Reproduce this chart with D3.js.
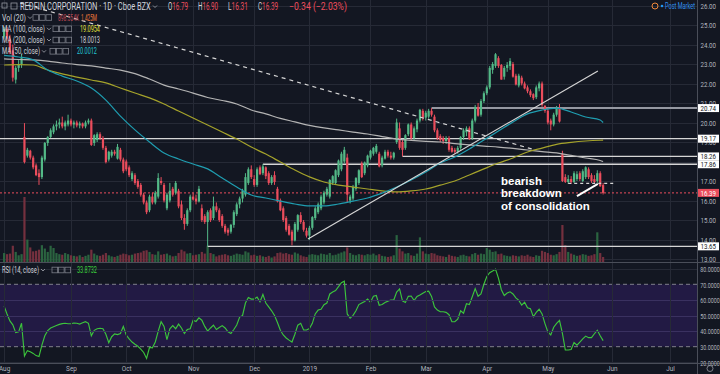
<!DOCTYPE html>
<html lang="en">
<head>
<meta charset="UTF-8">
<title>REDFIN CORPORATION 1D</title>
<script src="https://d3js.org/d3.v7.min.js"></script>
<style>
  html, body { margin: 0; padding: 0; background: #131722; }
  svg { display: block; }
  text { font-family: Roboto, "Open Sans", "Liberation Sans", sans-serif; }
</style>
</head>
<body>
<svg id="chart"></svg>
<script>
// ---- data ----
// first session of each month, as a bar index
const monthLabels = ["Aug", "Sep", "Oct", "Nov", "Dec", "2019", "Feb", "Mar", "Apr", "May", "Jun", "Jul"];
const monthBars = [0, 23, 42, 65, 86, 105, 126, 145, 166, 187, 209, 229];
const priceTicks = [13, 14, 15, 16, 17, 18, 19, 20, 21, 22, 23, 24, 25, 26];
const rsiTicks = [20, 30, 40, 50, 60, 70, 80];

// daily candles [open, high, low, close]
const candles = [
  // Aug
  [24.4,24.9,24.3,24.8],[24.8,24.9,24.2,24.3],[24.3,24.5,23.5,23.6],[23.7,24.0,22.1,22.3],[22.2,22.9,22.0,22.8],
  [22.8,23.2,22.6,23.0],[23.0,23.5,22.8,23.3],[19.26,19.97,17.9,17.97],[18.3,18.7,18.2,18.6],[18.55,18.6,18.1,18.2],
  [18.2,18.3,17.6,17.7],[17.8,17.9,17.25,17.3],[17.4,17.6,16.8,17.2],[17.2,18.3,17.1,18.2],[18.1,19.0,18.0,18.95],
  [18.95,19.3,18.8,19.26],[19.26,19.7,19.2,19.6],[19.5,19.9,19.4,19.8],[19.8,20.1,19.6,19.9],[19.9,20.2,19.7,20.0],
  [20.0,20.3,19.7,19.8],[19.8,20.1,19.6,20.0],[19.9,20.4,19.8,20.1],
  // Sep
  [20.1,20.2,19.8,19.9],[19.9,20.1,19.7,20.0],[20.0,20.1,19.75,19.85],[19.85,20.05,19.7,19.95],[19.95,20.0,19.7,19.8],
  [19.8,20.1,19.7,20.0],[20.0,20.2,19.9,20.1],[20.1,20.2,18.8,18.85],[18.95,19.4,18.8,19.35],[19.1,19.5,19.0,19.4],
  [19.4,19.5,19.1,19.2],[19.2,19.3,18.6,18.7],[18.7,18.8,17.9,17.97],[18.1,18.55,18.0,18.5],[18.3,18.6,18.2,18.5],
  [18.5,18.6,18.3,18.4],[18.15,18.9,18.1,18.75],[18.6,18.7,18.0,18.1],[18.1,18.2,17.4,17.5],
  // Oct
  [18.0,18.1,17.5,17.6],[17.7,17.8,17.2,17.3],[17.1,17.5,17.0,17.4],[17.3,17.4,16.8,16.9],[17.0,17.1,16.6,16.7],
  [16.8,16.9,16.2,16.3],[16.3,16.4,15.8,15.9],[15.9,16.0,15.3,15.4],[15.5,16.3,15.4,16.2],[16.2,16.4,15.8,15.9],
  [15.9,16.5,15.8,16.4],[16.2,17.4,16.1,17.15],[17.0,17.2,16.8,16.9],[16.8,16.9,15.9,16.0],[15.6,16.4,15.5,16.3],
  [16.0,16.9,15.9,16.5],[16.6,16.7,16.2,16.3],[16.4,17.0,16.3,16.9],[16.5,16.6,15.6,15.7],[15.8,16.0,15.0,15.1],
  [15.1,15.3,14.5,14.8],[14.8,15.6,14.7,15.5],[15.5,16.3,15.4,16.2],
  // Nov
  [16.2,16.4,16.0,16.05],[16.1,16.3,15.8,15.95],[15.95,16.75,15.9,16.6],[15.6,15.8,14.9,15.0],[15.2,15.3,14.8,14.9],
  [14.9,15.5,13.65,15.4],[15.5,15.6,14.9,15.0],[15.1,16.2,15.0,15.7],[15.7,15.9,15.4,15.5],[15.5,15.6,14.9,15.0],
  [15.2,15.3,14.6,14.7],[14.7,14.8,14.3,14.4],[14.5,14.6,14.2,14.35],[14.4,14.8,14.3,14.75],[14.75,15.5,14.6,15.4],
  [15.3,15.9,15.2,15.8],[15.8,16.2,15.6,16.1],[16.1,16.6,15.9,16.5],[16.3,17.4,16.2,17.2],[16.9,17.7,16.8,17.6],
  [17.6,17.8,17.1,17.2],
  // Dec
  [17.1,17.3,16.7,16.8],[16.8,17.7,16.7,17.6],[17.7,17.8,17.3,17.35],[17.4,17.86,17.3,17.75],[17.7,17.75,17.1,17.25],
  [17.4,17.5,16.8,16.9],[16.9,17.3,16.8,17.2],[17.3,17.5,16.8,16.95],[16.6,16.7,15.9,15.95],[16.0,16.1,15.45,15.5],
  [15.6,15.7,14.9,15.0],[15.1,15.2,14.4,14.5],[14.7,14.8,14.2,14.25],[14.4,14.5,13.7,13.95],[13.95,14.9,13.9,14.8],
  [14.5,15.3,14.4,15.25],[15.25,15.4,14.8,14.9],[14.9,15.0,14.4,14.5],[14.45,14.6,14.1,14.2],
  // Jan
  [14.2,14.7,13.97,14.6],[14.6,15.2,14.5,15.15],[15.1,15.7,15.0,15.6],[15.4,15.9,15.3,15.8],[15.6,16.3,15.5,16.2],
  [15.9,16.5,15.8,16.4],[16.3,16.7,16.2,16.6],[16.2,17.1,16.1,17.05],[16.9,17.3,16.8,17.25],[16.9,17.6,16.8,17.55],
  [17.3,18.1,17.2,18.05],[17.6,18.5,17.5,18.4],[18.0,18.75,17.9,18.6],[18.2,18.4,15.9,16.3],[16.0,16.3,15.85,16.2],
  [16.1,16.8,16.0,16.7],[16.6,17.2,16.5,17.15],[16.9,17.6,16.8,17.55],[17.9,18.0,17.15,17.2],[17.4,18.0,17.3,17.95],
  [17.8,18.35,17.7,18.3],
  // Feb
  [18.2,18.6,18.1,18.55],[18.4,18.75,18.3,18.7],[18.5,18.9,18.4,18.8],[18.4,18.5,17.7,17.75],[17.8,18.3,17.7,18.2],
  [18.15,18.6,18.1,18.5],[18.5,18.6,18.2,18.3],[18.3,18.5,18.1,18.2],[18.2,18.5,18.1,18.45],[19.0,20.2,18.9,20.0],
  [19.7,20.0,18.6,18.7],[19.0,19.1,18.26,18.6],[18.7,19.4,18.6,19.35],[19.4,19.95,19.3,19.9],[19.9,20.0,19.1,19.2],
  [19.2,19.8,19.1,19.7],[19.65,20.2,19.5,20.1],[20.1,20.7,20.0,20.65],[20.6,20.7,20.1,20.25],
  // Mar
  [20.25,20.6,20.1,20.5],[20.3,20.7,20.2,20.6],[20.6,20.74,20.3,20.4],[20.3,20.4,19.5,19.6],[19.6,19.7,19.1,19.2],
  [19.3,19.4,19.0,19.1],[19.2,19.3,18.9,19.05],[19.05,19.3,18.9,19.2],[19.2,19.3,18.5,18.6],[18.7,18.8,18.45,18.5],
  [18.6,18.7,18.4,18.5],[18.5,18.8,18.4,18.7],[18.7,19.3,18.6,19.25],[19.25,19.7,19.1,19.6],[19.5,19.8,19.3,19.7],
  [19.7,19.8,19.1,19.15],[19.2,20.2,19.1,20.1],[20.1,20.9,20.0,20.8],[20.8,21.0,20.3,20.35],[20.4,21.2,20.3,21.1],
  [21.1,21.6,21.0,21.5],
  // Apr
  [21.5,21.9,21.4,21.8],[21.8,22.9,21.7,22.8],[22.7,23.1,22.5,23.0],[22.9,23.56,22.8,23.5],[23.3,23.4,22.8,22.9],
  [22.95,23.0,22.2,22.2],[22.35,22.9,22.2,22.8],[22.8,23.1,22.6,22.95],[22.9,23.3,22.7,23.15],[23.0,23.1,22.3,22.35],
  [22.4,22.5,21.9,21.95],[21.9,22.5,21.8,22.4],[22.3,22.4,21.9,22.0],[22.0,22.1,21.7,21.75],[21.8,21.9,21.5,21.6],
  [21.6,21.7,21.3,21.4],[21.45,21.5,21.15,21.25],[21.3,21.9,21.2,21.8],[21.75,22.1,21.6,22.0],[22.0,22.1,20.8,20.9],
  [20.85,20.9,20.5,20.6],
  // May
  [20.6,20.7,19.9,20.0],[20.1,20.2,19.6,19.9],[19.9,20.5,19.8,20.4],[20.4,20.85,20.3,20.75],[20.7,20.95,20.0,20.05],
  [18.4,18.55,16.95,17.0],[17.2,17.35,16.9,16.95],[16.95,17.3,16.85,17.1],[17.1,17.25,16.85,16.95],[16.95,17.5,16.9,17.4],
  [17.1,17.5,17.0,17.35],[17.4,17.5,17.0,17.1],[17.0,17.6,16.95,17.5],[17.2,17.75,17.1,17.7],[17.6,17.7,17.1,17.2],
  [17.3,17.4,16.9,17.0],[17.1,17.3,16.85,16.95],[17.0,17.55,16.9,17.4],[17.4,17.5,16.7,16.73],[16.79,16.90,16.31,16.39]
];

// daily volume, millions of shares
const volumes = [
  1.6,1.4,1.5,2.9,1.8,1.2,1.4,11.6,4.0,2.6,1.9,2.0,2.2,3.0,2.4,1.8,2.9,2.5,1.6,1.4,1.3,1.6,1.4,
  1.2,1.1,1.0,1.2,0.9,1.1,1.3,2.2,1.5,1.2,1.1,1.3,1.6,1.2,1.0,0.9,1.1,1.3,1.5,
  1.4,1.2,1.3,1.5,1.6,1.7,2.0,2.1,1.8,1.4,1.3,1.9,1.3,1.4,1.5,1.2,1.0,1.1,1.6,2.2,1.9,1.5,1.6,
  1.2,1.3,1.4,1.8,1.5,2.9,1.6,1.4,1.0,1.2,1.3,1.4,1.2,1.1,1.3,1.5,1.4,1.3,1.9,1.7,1.2,
  1.3,1.1,1.2,1.0,0.9,1.1,0.8,1.0,1.6,1.7,1.5,1.6,1.4,1.3,1.7,1.5,1.2,1.0,0.9,
  1.3,1.4,1.3,1.2,1.5,1.4,1.3,1.6,1.2,1.3,1.5,1.7,1.9,2.6,1.6,1.3,1.2,1.4,1.3,1.2,1.4,
  1.3,1.5,1.2,1.4,1.1,1.0,0.9,1.0,1.2,4.8,2.4,1.9,1.5,1.6,1.2,1.1,1.5,4.4,1.9,
  1.5,1.4,1.6,1.5,1.2,1.1,1.0,0.9,1.3,1.1,1.0,0.9,1.2,1.3,1.1,1.0,1.4,1.6,1.3,1.5,1.4,
  2.5,2.2,1.8,1.9,1.4,1.5,1.2,1.1,1.0,1.2,1.1,1.0,1.2,1.1,1.3,1.0,0.9,1.2,1.1,2.0,1.8,
  1.6,1.3,1.2,1.4,1.8,6.6,3.0,1.8,1.5,1.3,1.1,1.2,1.4,1.3,1.1,1.2,1.4,5.3,1.6,0.899
];

// RSI(14), one value per bar
const rsi = [
  56,51,46.5,44,39,39.5,45,24,27.5,26.8,
  25.7,24.3,23.7,31,37,40.3,42,42.8,43.6,44.3,
  44.8,45.0,44.7,44.7,45.2,45.0,44.5,45.3,46.0,45.0,
  37,40.5,41.5,41.8,41.5,38,32.5,36.4,38.2,37.8,
  38.5,43,37.5,35,33,31.6,30.3,28.5,26.3,22.5,
  29.5,29.3,33,40,46,43,34.5,41.5,43.5,41.5,
  44.5,42,38.5,41,41.5,47,46.2,48.5,47,43,
  40,42,43.8,41,42.3,43.5,42,39.5,38.5,41,
  43.9,49,50,58,61.5,60.5,60.5,61.8,58.8,63.5,
  58,55.5,53,50,45.5,40.5,37.5,35.6,34.2,33,
  38,43.8,45,40.7,40.7,41.6,45,51,53.5,54,
  56.9,58,63.8,65.1,66,68.5,71,72,51,48.3,
  50.1,53,57,58,59,60.5,58.5,62.3,62.8,56.6,
  57,58.3,59.2,59.9,59.9,65,67,59.4,58.4,62.3,
  62.5,59.6,62.2,63.1,64.3,65.4,65.6,62.2,55.5,53.5,
  52.4,52.4,52,50.5,46,46,47.7,53,51.5,57.5,
  57,62,67.2,62.3,63.8,70,75,77.4,78.5,79.7,
  74,66.5,62.8,64.4,65.2,63.8,61.3,59.7,56.7,58.5,
  55,54.4,49.2,52,54,51,44.8,39.5,37.5,42.5,
  45,46.8,38.5,27.9,27.9,28.2,32.7,31,33,35,
  36.8,35.8,35.8,38.3,40.5,37,33.87
];

// moving averages, read every 5 bars
const maBars = [0,5,10,15,20,25,30,35,40,45,50,55,60,65,70,75,80,85,90,95,100,
  105,110,115,120,125,130,135,140,145,150,155,160,165,170,175,180,185,190,195,200,205,206];
const ma50 = [23.44,23.36,23.21,22.69,22.38,22.13,21.77,21.15,20.33,19.62,19.0,18.44,18.13,17.87,17.62,
  17.15,16.69,16.28,16.13,15.97,15.82,15.72,15.72,15.82,15.97,16.13,16.38,16.69,17.05,17.46,17.92,
  18.23,18.64,19.10,19.56,20.03,20.44,20.64,20.74,20.54,20.28,20.13,20.00];
const ma100 = [22.95,22.97,22.95,22.69,22.49,22.33,22.18,22.03,21.77,21.51,21.26,20.95,20.59,20.23,19.87,
  19.51,19.15,18.74,18.38,17.97,17.56,17.21,16.95,16.79,16.69,16.59,16.49,16.44,16.49,16.59,16.79,
  17.0,17.31,17.62,17.92,18.18,18.49,18.69,18.88,18.98,19.05,19.09,19.095];
const ma200 = [23.26,23.23,23.21,23.15,23.05,22.97,22.90,22.79,22.69,22.51,22.23,21.92,21.72,21.51,21.28,
  21.13,20.95,20.64,20.44,20.21,20.03,19.85,19.72,19.62,19.51,19.41,19.28,19.15,19.08,19.03,19.0,
  18.92,18.85,18.79,18.74,18.67,18.59,18.51,18.44,18.31,18.18,18.05,18.00];

// drawn levels (price, bar where the ray starts)
const levels = [20.74, 19.17, 18.26, 17.86, 13.65];
const levelFrom = [147, -2, 137, 89, 70];
const lastPrice = 16.39;
// trend lines as [bar, price] pairs
const downTrend = [[5.5, 26.13], [182, 18.62]];
const upTrend = [[104.5, 14.03], [204.2, 22.64]];
const consolidation = [[194, 16.88], [209.5, 16.88]];
const arrow = [[197, 16.23], [204.2, 16.85]];
const note = ["bearish", "breakdown", "of consolidation"];

// ---- layout ----
var W = 720, H = 374;
var plotR = 697;
var priceBottom = 262, rsiTop = 263, rsiBottom = 363;
var up = "#53b987", down = "#eb4d5c";
var grid = "#262a36", axisText = "#b2b5be";

var svg = d3.select("#chart").attr("width", W).attr("height", H);
svg.append("rect").attr("width", W).attr("height", H).attr("fill", "#131722");

var x = d3.scaleLinear().domain([0, 229]).range([4.1, 670]);
var yP = d3.scaleLinear().domain([13, 26]).range([259, 5.5]);
var yV = d3.scaleLinear().domain([0, 11.6]).range([priceBottom, 197]);
var yR = d3.scaleLinear().domain([20, 80]).range([362.3, 268.7]);

// the screenshot's small texts are narrow: squash each one horizontally to a given width
function squash(sel, width, tx, ty) {
  sel.each(function () {
    var w = this.getComputedTextLength();
    var t = d3.select(this);
    var k = (typeof width === "function" ? width(this) : width) / w;
    t.attr("x", 0).attr("y", 0).attr("transform", `translate(${tx},${ty}) scale(${k},1)`);
  });
}
function label(g, str, x0, y0, width, size, color) {
  var t = g.append("text").attr("font-size", size).attr("fill", color).text(str);
  squash(t, width, x0, y0);
  return t;
}

svg.append("clipPath").attr("id", "clipP").append("rect")
  .attr("width", plotR).attr("height", priceBottom);
svg.append("clipPath").attr("id", "clipR").append("rect")
  .attr("y", rsiTop).attr("width", plotR).attr("height", rsiBottom - rsiTop);

// RSI band 30..70
var rsiG = svg.append("g").attr("clip-path", "url(#clipR)");
rsiG.append("rect").attr("x", 0).attr("width", plotR)
  .attr("y", yR(70)).attr("height", yR(30) - yR(70)).attr("fill", "#221a44");

// grid
var gridG = svg.append("g").attr("stroke", grid).attr("stroke-width", 1);
gridG.selectAll(".hp").data(priceTicks).join("line")
  .attr("x1", 0).attr("x2", plotR)
  .attr("y1", d => Math.round(yP(d)) + 0.5).attr("y2", d => Math.round(yP(d)) + 0.5);
gridG.selectAll(".hr").data(rsiTicks.filter(d => d != 30 && d != 70)).join("line")
  .attr("x1", 0).attr("x2", plotR)
  .attr("y1", d => Math.round(yR(d)) + 0.5).attr("y2", d => Math.round(yR(d)) + 0.5)
  .attr("stroke", d => (d > 30 && d < 70) ? "#3a3160" : grid);
gridG.selectAll(".v").data(monthBars).join("line")
  .attr("x1", d => Math.round(x(d)) + 0.5).attr("x2", d => Math.round(x(d)) + 0.5)
  .attr("y1", 0).attr("y2", rsiBottom);

// volume
var priceG = svg.append("g").attr("clip-path", "url(#clipP)");
priceG.append("g").selectAll("rect").data(volumes).join("rect")
  .attr("x", (d, i) => x(i) - 1.1).attr("width", 2.2)
  .attr("y", d => yV(d)).attr("height", d => priceBottom - yV(d))
  .attr("fill", (d, i) => candles[i][3] >= candles[i][0] ? "#2b6440" : "#74303e");

// horizontal drawn levels
priceG.append("g").selectAll("line").data(levels).join("line")
  .attr("x1", (d, i) => x(levelFrom[i])).attr("x2", plotR)
  .attr("y1", d => yP(d)).attr("y2", d => yP(d))
  .attr("stroke", (d, i) => i == 0 ? "#9598a1" : "#d6d6d6")
  .attr("stroke-width", (d, i) => i == 0 ? 2 : 1.3);

// last price dotted line
priceG.append("line").attr("x1", 0).attr("x2", plotR)
  .attr("y1", yP(lastPrice)).attr("y2", yP(lastPrice))
  .attr("stroke", down).attr("stroke-dasharray", "2,2").attr("stroke-width", 1);

// candles
priceG.append("g").selectAll("line").data(candles).join("line")
  .attr("x1", (d, i) => x(i)).attr("x2", (d, i) => x(i))
  .attr("y1", d => yP(d[1])).attr("y2", d => yP(d[2]))
  .attr("stroke", d => d[3] >= d[0] ? up : down).attr("stroke-width", 1);
priceG.append("g").selectAll("rect").data(candles).join("rect")
  .attr("x", (d, i) => x(i) - 1.1).attr("width", 2.2)
  .attr("y", d => yP(Math.max(d[0], d[3])))
  .attr("height", d => Math.max(1, Math.abs(yP(d[0]) - yP(d[3]))))
  .attr("fill", d => d[3] >= d[0] ? up : down);

// moving averages
var maLine = d3.line().x(d => x(d[0])).y(d => yP(d[1])).curve(d3.curveMonotoneX);
[[ma200, "#b4b4b4"], [ma100, "#a5a32b"], [ma50, "#1f9db0"]].forEach(m => {
  priceG.append("path")
    .datum(maBars.map((b, k) => [b, m[0][k]]))
    .attr("d", maLine).attr("fill", "none")
    .attr("stroke", m[1]).attr("stroke-width", 1.2);
});

// trend lines
var seg = d3.line().x(d => x(d[0])).y(d => yP(d[1]));
priceG.append("path").datum(downTrend).attr("d", seg)
  .attr("stroke", "#d6d6d6").attr("stroke-width", 1.2).attr("stroke-dasharray", "4,4").attr("fill", "none");
priceG.append("path").datum(upTrend).attr("d", seg)
  .attr("stroke", "#d6d6d6").attr("stroke-width", 1.2).attr("fill", "none");
priceG.append("path").datum(consolidation).attr("d", seg)
  .attr("stroke", "#d6d6d6").attr("stroke-width", 1.2).attr("stroke-dasharray", "3,3").attr("fill", "none");
priceG.append("path").datum(arrow).attr("d", seg)
  .attr("stroke", "#ffffff").attr("stroke-width", 2).attr("fill", "none");

// annotation
priceG.append("g").selectAll("text").data(note).join("text")
  .attr("x", 501).attr("y", (d, i) => 184.5 + i * 12.6)
  .attr("fill", "#ffffff").attr("font-size", 11.5).attr("font-weight", "bold")
  .style("font-family", "'Liberation Sans', Arial, sans-serif")
  .text(d => d);

// RSI line and band edges
rsiG.append("g").selectAll("line").data([70, 30]).join("line")
  .attr("x1", 0).attr("x2", plotR).attr("y1", d => yR(d)).attr("y2", d => yR(d))
  .attr("stroke", "#80808c").attr("stroke-dasharray", "4,3").attr("stroke-width", 1);
rsiG.append("path").datum(rsi)
  .attr("d", d3.line().x((d, i) => x(i)).y(d => yR(d)))
  .attr("fill", "none").attr("stroke", "#3cc43c").attr("stroke-width", 1.15);

// pane borders
var border = "#4a4e59";
svg.append("line").attr("x1", plotR + 0.5).attr("x2", plotR + 0.5).attr("y1", 0).attr("y2", H).attr("stroke", border);
svg.append("line").attr("x1", 0).attr("x2", W).attr("y1", priceBottom + 0.5).attr("y2", priceBottom + 0.5).attr("stroke", border);
svg.append("line").attr("x1", 0).attr("x2", W).attr("y1", rsiBottom + 0.5).attr("y2", rsiBottom + 0.5).attr("stroke", border);

// axes
function styleAxis(g) {
  g.select(".domain").remove();
  g.attr("font-family", null);
  g.selectAll("text").attr("fill", axisText).attr("font-size", 8).attr("dy", null);
}
// a tick label lying wholly under the level boxes is dropped; partly covered ones stay, as on screen
var boxY = levels.concat([lastPrice]).map(b => yP(b));
var shownTicks = priceTicks.filter(t => {
  var y = yP(t);
  var above = boxY.some(b => b <= y && y - b < 6);
  var below = boxY.some(b => b >= y && b - y < 6);
  return !(above && below);
});
svg.append("g").attr("transform", `translate(${plotR},0)`)
  .call(d3.axisRight(yP).tickValues(shownTicks).tickFormat(d3.format(".2f")).tickSize(0))
  .call(styleAxis)
  .call(g => squash(g.selectAll("text"), 15.5, 3.5, 2.8));
svg.append("g").attr("transform", `translate(${plotR},0)`)
  .call(d3.axisRight(yR).tickValues(rsiTicks).tickFormat(d3.format(".4f")).tickSize(0))
  .call(styleAxis)
  .call(g => squash(g.selectAll("text"), 19.5, 3.2, 2.8));
svg.append("g").attr("transform", `translate(0,${rsiBottom})`)
  .call(d3.axisBottom(x).tickValues(monthBars).tickFormat((d, i) => monthLabels[i]).tickSize(0))
  .call(styleAxis)
  .call(g => squash(g.selectAll("text"), t => t.getComputedTextLength() * 0.8, 0, 8.2));

// price labels on the axis
var lab = svg.append("g");
levels.forEach(v => {
  lab.append("rect").attr("x", plotR + 1).attr("y", yP(v) - 4).attr("width", 21).attr("height", 8).attr("fill", "#ffffff");
  label(lab, d3.format(".2f")(v), plotR + 3.5, yP(v) + 2.8, 15.5, 8, "#131722");
});
lab.append("rect").attr("x", plotR + 1).attr("y", yP(lastPrice) - 4).attr("width", 21).attr("height", 8).attr("fill", down);
label(lab, d3.format(".2f")(lastPrice), plotR + 3.5, yP(lastPrice) + 2.8, 15.5, 8, "#ffffff");

// ---- legend ----
var leg = svg.append("g");
var legColor = "#d1d4dc";
function chevron(g, cx, cy) {
  g.append("path").attr("d", `M${cx - 2},${cy - 1}L${cx},${cy + 1}L${cx + 2},${cy - 1}`)
    .attr("stroke", "#9598a1").attr("fill", "none").attr("stroke-width", 0.9);
}
function icons(g, x0, cy) {
  for (let k = 0; k < 3; k++) {
    g.append("rect").attr("x", x0 + k * 6.5).attr("y", cy - 2.8).attr("width", 5.6).attr("height", 5.6)
      .attr("fill", "none").attr("stroke", "#7b7e88").attr("stroke-width", 0.8);
  }
}
// title
leg.append("rect").attr("x", 2).attr("y", 3).attr("width", 5).attr("height", 5).attr("fill", "none").attr("stroke", "#9598a1").attr("stroke-width", 0.8);
leg.append("rect").attr("x", 11).attr("y", 3).attr("width", 6).attr("height", 6).attr("fill", "none").attr("stroke", "#9598a1").attr("stroke-width", 0.8);
label(leg, "REDFIN CORPORATION \u00b7 1D \u00b7 Cboe BZX", 20, 9.8, 131, 10, legColor);
chevron(leg, 155, 6.5);
var ohlc = [["O", "16.79", 168], ["H", "16.90", 198], ["L", "16.31", 228], ["C", "16.39", 258]];
ohlc.forEach(o => {
  var t = leg.append("text").attr("font-size", 10).attr("fill", legColor);
  t.append("tspan").text(o[0]);
  t.append("tspan").attr("fill", down).text(o[1]);
  squash(t, 20, o[2], 9.8);
});
label(leg, "\u22120.34 (\u22122.03%)", 289, 9.8, 58, 10, down);

// name, baseline, label width, icon x, values [text, colour, x, width]
var rows = [
  ["Vol (20)", 20.5, 24, 33, [["898.554K", "#c04a55", 58, 21], ["1.425M", "#f07a3a", 81, 16]]],
  ["MA (100, close)", 31.8, 43, 53, [["19.0954", "#e3e33a", 80, 20]]],
  ["MA (200, close)", 43, 43, 53, [["18.0013", "#d1d4dc", 80, 20]]],
  ["MA (50, close)", 54.3, 38, 50, [["20.0012", "#22c4d6", 77, 20]]],
  ["RSI (14, close)", 273, 37, 52, [["33.8732", "#3cd43c", 77, 20]]]
];
rows.forEach(r => {
  label(leg, r[0], 2, r[1], r[2], 9, legColor);
  chevron(leg, r[2] + 6, r[1] - 3);
  icons(leg, r[3], r[1] - 3);
  r[4].forEach(v => label(leg, v[0], v[2], r[1], v[3], 9, v[1]));
});

// post market badge
svg.append("circle").attr("cx", 655).attr("cy", 6).attr("r", 3).attr("fill", "none").attr("stroke", "#f0883a").attr("stroke-width", 1);
svg.append("circle").attr("cx", 662).attr("cy", 6).attr("r", 1.3).attr("fill", "#2196f3");
label(svg, "Post Market", 665, 8.8, 30, 8.5, "#2f8fe8");
svg.append("circle").attr("cx", 710).attr("cy", 368.5).attr("r", 3).attr("fill", "none").attr("stroke", "#9598a1").attr("stroke-width", 0.8);
</script>
</body>
</html>
